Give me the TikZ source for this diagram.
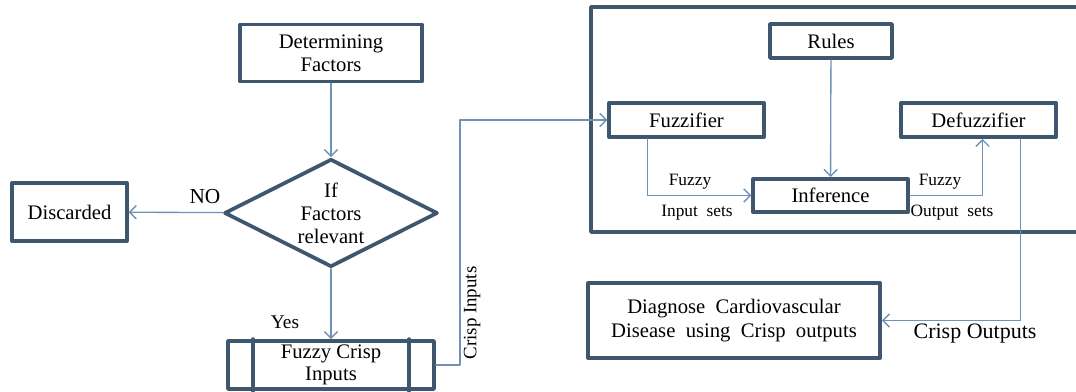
\documentclass[tikz,border=0pt]{standalone}
\usepackage{fontspec}
\setmainfont{Liberation Serif}
\usetikzlibrary{shapes.geometric,arrows.meta}
\definecolor{boxline}{RGB}{62,86,110}
\definecolor{flowline}{RGB}{112,146,180}
\tikzset{
  box/.style={draw=boxline, line width=2.8pt, fill=white, align=center, inner sep=2pt,
              font=\fontsize{15.5}{17}\selectfont},
  decision/.style={box, diamond, aspect=2, inner sep=0pt, font=\fontsize{15.5}{17.25}\selectfont},
  flow/.style={draw=flowline, line width=1pt, -{Straight Barb[length=5pt,width=10pt]}},
  smalllabel/.style={font=\fontsize{13}{14}\selectfont},
}
\begin{document}
\begin{tikzpicture}[x=0.75pt, y=-0.75pt, line cap=round, line join=round]
    \useasboundingbox (0,0) rectangle (1076,392);

    % Fuzzy inference system frame
    \draw[boxline, line width=2.8pt] (591,7) rectangle (1082,232);

    % Left flowchart
    \node[box, minimum width=136.5pt, minimum height=42.75pt] (det) at (331,53) {Determining\\Factors};
    \node[decision, minimum width=160pt, minimum height=81pt] (dia) at (331,213) {If\\Factors\\relevant};
    \node[box, minimum width=86pt, minimum height=43.5pt] (disc) at (69.5,212) {Discarded};
    \node[box, minimum width=154.5pt, minimum height=36pt] (fci) at (331,365) {Fuzzy Crisp\\Inputs};
    \draw[boxline, line width=2.8pt] ([xshift=20pt]fci.north west) -- ([xshift=20pt]fci.south west);
    \draw[boxline, line width=2.8pt] ([xshift=-20pt]fci.north east) -- ([xshift=-20pt]fci.south east);

    % Inference blocks
    \node[box, minimum width=91.5pt, minimum height=25.5pt] (rules) at (831,41) {Rules};
    \node[box, minimum width=116pt, minimum height=25.5pt] (fuzz) at (686.5,120) {Fuzzifier};
    \node[box, minimum width=116pt, minimum height=25.5pt] (defuzz) at (978.5,120) {Defuzzifier};
    \node[box, minimum width=116pt, minimum height=25pt] (infer) at (830.5,195.5) {Inference};
    \node[box, minimum width=219pt, minimum height=56pt, font=\fontsize{15.5}{17.5}\selectfont] (diag) at (734,320.5)
        {Diagnose~~Cardiovascular\\Disease~~using~~Crisp~~outputs};

    % Connectors
    \coordinate (ci) at (460,120);
    \draw[flow] (det) -- (dia);
    \draw[flow] (dia) -- (disc);
    \draw[flow] (dia) -- (fci);
    \draw[flow] (fci.east) -| (ci) -- (fuzz.west);
    \draw[flow] (rules) -- (infer);
    \draw[flow] ([xshift=30pt]fuzz.south west) |- (infer.west);
    \draw[flow] (infer.east) -| ([xshift=3pt]defuzz.south);
    \draw[flow] ([xshift=-28pt]defuzz.south east) |- (diag.east);

    % Labels
    \node[font=\fontsize{16}{17}\selectfont] (no) at (205,197) {NO};
    \node[font=\fontsize{14.5}{16}\selectfont] (yes) at (285,322) {Yes};
    \node[rotate=90, font=\fontsize{14.2}{16}\selectfont] (cinp) at (472,313) {Crisp Inputs};
    \node[smalllabel] (fzin) at (690,182) {Fuzzy};
    \node[smalllabel] (insets) at (697,213) {Input~~sets};
    \node[smalllabel] (fzout) at (940,182) {Fuzzy};
    \node[smalllabel] (outsets) at (952,213) {Output~~sets};
    \node[font=\fontsize{16.5}{18}\selectfont] (cout) at (975,334) {Crisp Outputs};
\end{tikzpicture}
\end{document}
